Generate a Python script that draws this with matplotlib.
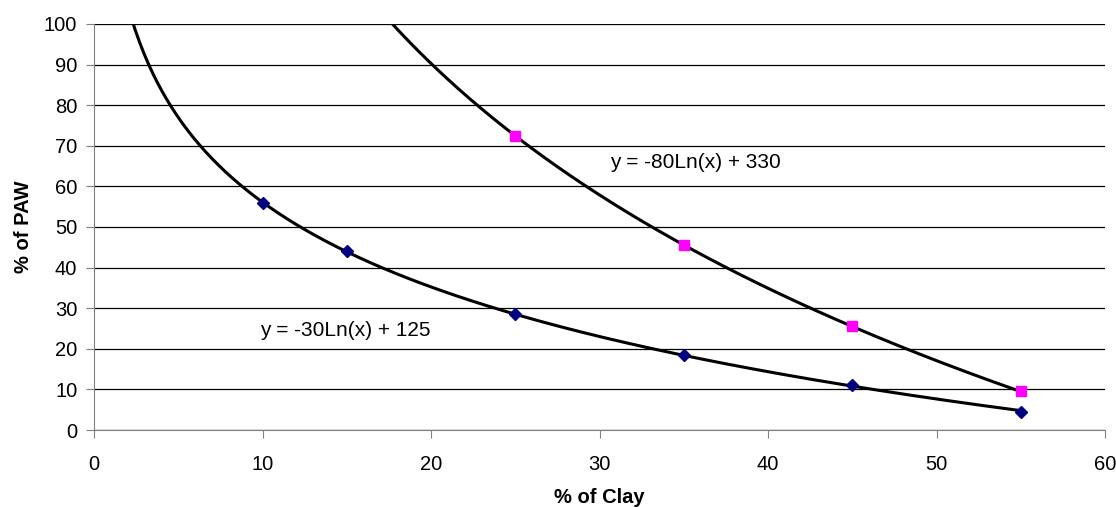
import numpy as np
import matplotlib
matplotlib.use("Agg")
import matplotlib.pyplot as plt

plt.rcParams['font.family'] = ['Liberation Sans', 'DejaVu Sans']

clay_a = [10, 15, 25, 35, 45, 55]
paw_a = [56, 44, 28.5, 18.5, 11, 4.5]
clay_b = [25, 35, 45, 55]
paw_b = [72.5, 45.5, 25.5, 9.5]
label_a = "y = -30Ln(x) + 125"
label_b = "y = -80Ln(x) + 330"
xticks = [0, 10, 20, 30, 40, 50, 60]
yticks = [0, 10, 20, 30, 40, 50, 60, 70, 80, 90, 100]

fig = plt.figure(figsize=(11.16, 5.07), dpi=100)
ax = fig.add_axes([94/1116, 1-430/507, (1105-94)/1116, (430-24)/507])

# logarithmic trendlines fitted to the data (as Excel does)
ca, ia = np.polyfit(np.log(clay_a), paw_a, 1)
cb, ib = np.polyfit(np.log(clay_b), paw_b, 1)
xa = np.linspace(1.5, max(clay_a), 400)
xb = np.linspace(15, max(clay_b), 400)
ax.plot(xa, ca*np.log(xa)+ia, color='black', lw=2.2, zorder=3)
ax.plot(xb, cb*np.log(xb)+ib, color='black', lw=2.2, zorder=3)

ax.plot(clay_a, paw_a, linestyle='none', marker='D', color='#000080',
        markersize=6.5, zorder=4)
ax.plot(clay_b, paw_b, linestyle='none', marker='s', color='#FF00FF',
        markersize=7, zorder=4)

ax.text(30.6, 65.8, label_b, fontsize=15, va='center', ha='left')
ax.text(9.85, 24.6, label_a, fontsize=15, va='center', ha='left')

ax.set_xlim(0, 60)
ax.set_ylim(0, 100)
ax.set_xticks(xticks)
ax.set_yticks(yticks)
ax.yaxis.grid(True, color='black', lw=0.9)
ax.set_axisbelow(True)
for s in ['top', 'right']:
    ax.spines[s].set_visible(False)
for s in ['left', 'bottom']:
    ax.spines[s].set_color('#808080')
ax.tick_params(axis='both', direction='out', length=6, color='#808080',
               labelsize=14.5)
ax.tick_params(axis='x', pad=12)
ax.tick_params(axis='y', pad=6)
ax.set_xlabel('% of Clay', fontsize=14.5, fontweight='bold', labelpad=10)
ax.set_ylabel('% of PAW', fontsize=14.5, fontweight='bold', labelpad=8)

fig.savefig('out.png', dpi=100)
